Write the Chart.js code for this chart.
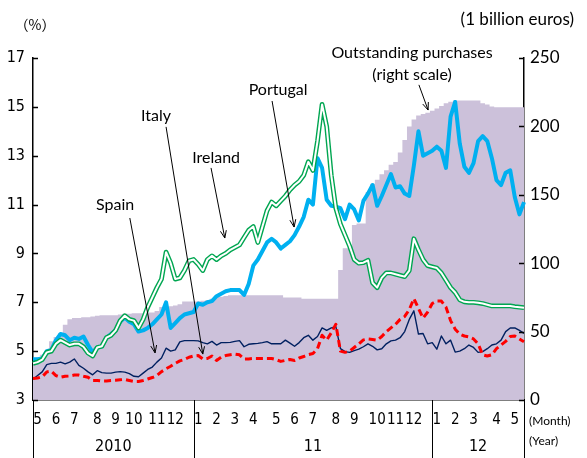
<!DOCTYPE html>
<html>
<head>
<meta charset="utf-8">
<script src="https://cdn.jsdelivr.net/npm/chart.js@4.4.1/dist/chart.umd.min.js"></script>
<style>
  html, body { margin: 0; padding: 0; background: #fff; }
  #wrap { width: 587px; height: 458px; position: relative; }
</style>
</head>
<body>
<div id="wrap"><canvas id="bondChart"></canvas></div>
<script>
// weekly observations, May 2010 - May 2012 (month of each week)
const weekMonth = [
  5, 5, 5, 5, 6, 6, 6, 6, 7, 7, 7, 7, 7, 8, 8, 8, 8, 9, 9, 9, 9, 10, 10, 10, 10, 10, 11, 11, 11, 11, 12, 12, 12, 12, 12,
  1, 1, 1, 1, 2, 2, 2, 2, 3, 3, 3, 3, 4, 4, 4, 4, 4, 5, 5, 5, 5, 6, 6, 6, 6, 7, 7, 7, 7, 7, 8, 8, 8, 8,
  9, 9, 9, 9, 9, 10, 10, 10, 10, 11, 11, 11, 11, 12, 12, 12, 12, 12,
  1, 1, 1, 1, 2, 2, 2, 2, 3, 3, 3, 3, 3, 4, 4, 4, 4, 5, 5, 5, 5
];
const yearLabels = ['2010', '11', '12'];

// 10-year yields (%)
const portugal = [
  4.67, 4.67, 4.7, 5.0, 5.05, 5.45, 5.7, 5.65, 5.45, 5.55, 5.5, 5.6, 5.25, 4.95, 5.15, 5.2, 5.55, 5.7, 5.85, 6.2,
  6.38, 6.2, 6.1, 5.8, 5.85, 5.95, 6.1, 6.3, 6.5, 7.0, 5.95, 6.15, 6.35, 6.5, 6.55, 6.6, 6.95, 6.9, 7.0, 7.05,
  7.25, 7.35, 7.45, 7.5, 7.5, 7.5, 7.3, 7.75, 8.5, 8.75, 9.1, 9.45, 9.6, 9.45, 9.2, 9.35, 9.5, 9.75, 10.1, 10.5,
  11.2, 11.0, 12.9, 12.5, 11.2, 10.95, 10.92, 10.85, 10.4, 11.0, 10.8, 10.35, 11.15, 11.45, 11.8, 10.95, 11.35, 11.8, 12.25, 11.7,
  11.75, 11.45, 11.35, 12.6, 14.0, 13.0, 13.1, 13.2, 13.37, 13.2, 12.5, 14.6, 15.2, 13.5, 12.55, 12.3, 12.7, 13.6, 13.8, 13.6,
  12.9, 12.0, 11.8, 12.3, 12.4, 11.3, 10.6, 11.1
];
const ireland = [
  4.5, 4.55, 4.65, 4.95, 5.0, 5.3, 5.45, 5.35, 5.25, 5.3, 5.3, 5.18, 4.92, 4.8, 5.15, 5.2, 5.55, 5.65, 5.85, 6.25,
  6.45, 6.3, 6.25, 5.95, 6.3, 6.8, 7.2, 7.6, 7.95, 9.05, 8.6, 7.95, 8.0, 8.3, 8.7, 8.75, 8.55, 8.3, 8.75, 8.9,
  8.75, 8.9, 9.0, 9.15, 9.25, 9.35, 9.65, 9.95, 10.1, 9.45, 10.1, 10.75, 11.1, 10.95, 11.15, 11.35, 11.6, 11.8, 11.95, 12.2,
  12.75, 12.4, 13.6, 15.1, 14.2, 12.2, 10.85, 10.2, 9.75, 9.3, 8.75, 8.6, 8.62, 8.72, 7.8, 7.6, 8.0, 8.2, 8.2, 8.15,
  8.1, 8.05, 8.3, 9.6, 9.15, 8.75, 8.5, 8.45, 8.4, 8.2, 7.9, 7.6, 7.4, 7.1, 7.02, 7.0, 7.0, 6.98, 6.95, 6.9,
  6.85, 6.85, 6.85, 6.85, 6.85, 6.82, 6.8, 6.78
];
const italy = [
  3.85, 4.0, 4.15, 4.45, 4.5, 4.5, 4.55, 4.48, 4.55, 4.68, 4.42, 4.3, 4.15, 4.03, 4.2, 4.12, 4.1, 4.1, 4.14, 4.16,
  4.14, 4.08, 3.97, 3.95, 4.1, 4.25, 4.35, 4.55, 4.72, 5.12, 5.0, 5.05, 5.38, 5.43, 5.43, 5.43, 5.42, 5.35, 5.3, 5.4,
  5.25, 5.35, 5.35, 5.36, 5.4, 5.43, 5.18, 5.28, 5.3, 5.32, 5.35, 5.39, 5.3, 5.3, 5.3, 5.45, 5.33, 5.2, 5.35, 5.55,
  5.65, 5.45, 5.6, 5.95, 5.85, 5.95, 6.0, 5.1, 4.98, 4.95, 5.02, 5.08, 5.18, 5.3, 5.2, 5.05, 5.1, 5.3, 5.42, 5.45,
  5.55, 5.8, 6.3, 6.65, 5.7, 5.72, 5.3, 5.35, 5.08, 5.62, 5.3, 5.45, 4.96, 5.0, 5.1, 5.25, 5.15, 4.95, 4.98, 5.1,
  5.25, 5.3, 5.45, 5.8, 5.95, 5.95, 5.85, 5.73
];
const spain = [
  3.88, 3.9, 3.95, 4.15, 4.18, 4.0, 3.93, 3.97, 3.98, 4.02, 4.02, 3.97, 3.93, 3.8, 3.8, 3.78, 3.78, 3.8, 3.81, 3.83,
  3.84, 3.8, 3.76, 3.76, 3.8, 3.86, 3.92, 4.0, 4.16, 4.28, 4.38, 4.5, 4.6, 4.66, 4.75, 4.8, 4.82, 4.68, 4.7, 4.8,
  4.62, 4.75, 4.82, 4.85, 4.88, 4.85, 4.68, 4.68, 4.7, 4.7, 4.7, 4.7, 4.7, 4.65, 4.58, 4.62, 4.66, 4.62, 4.72, 4.78,
  4.86, 4.9, 5.1, 5.65, 5.45, 5.75, 6.1, 5.0, 4.95, 5.0, 5.15, 5.3, 5.46, 5.5, 5.48, 5.45, 5.6, 5.8, 5.95, 6.1,
  6.3, 6.42, 6.7, 7.15, 6.75, 6.35, 6.6, 6.95, 7.05, 7.05, 6.8, 6.25, 5.9, 5.7, 5.62, 5.58, 5.5, 5.3, 4.85, 4.8,
  4.85, 5.1, 5.25, 5.4, 5.6, 5.62, 5.5, 5.38
];
// ECB outstanding purchases (1 billion euros, right scale)
const purchases = [
  30, 31, 33, 36, 43, 46, 49, 55, 59, 60, 60, 60.5, 60.5, 61, 61.5, 62, 62, 62, 62, 62.5,
  63, 63, 63.5, 63.5, 63.5, 64, 64, 65, 68, 68, 68.5, 69, 70, 72, 72, 72, 72, 72.5, 73, 74,
  75.5, 75.5, 76, 76.5, 76.5, 76.5, 76.5, 76.5, 76.5, 76.5, 76.5, 76.5, 76.5, 76.5, 76.5, 75, 75, 75, 75, 74,
  74, 74, 74, 74, 74, 74, 74, 95, 111, 111, 128, 129, 129, 152, 158, 161, 165, 168, 172, 174,
  181, 190, 200, 205, 208, 209, 210, 211.5, 213, 215, 217, 218, 219, 219, 219, 219, 219, 219, 217, 216,
  214.5, 214, 214, 214, 214, 214, 214, 214
];

const leftTicks = [3, 17, 2];     // min, max, step (%)
const rightTicks = [0, 250, 50];  // min, max, step (1 billion euros)

// labels + arrows, positioned in data units (week index, % scale)
const notes = [
  { text: ['Spain'], at: [17.9, 10.98], from: [21.1, 10.45], to: [26.6, 4.93] },
  { text: ['Italy'], at: [26.8, 14.63], from: [29.0, 14.18], to: [37.0, 4.88] },
  { text: ['Ireland'], at: [39.9, 12.9], from: [38.8, 12.5], to: [41.8, 9.63] },
  { text: ['Portugal'], at: [53.4, 15.69], from: [52.1, 15.24], to: [56.9, 10.08] },
  { text: ['Outstanding purchases', '(right scale)'], at: [82.6, 17.2], from: [84.1, 15.9], to: [86.1, 14.87] }
];

const NARROW = "'Liberation Sans Narrow', 'DejaVu Sans Condensed', sans-serif";
const TEXT = "Lato, 'Open Sans', sans-serif";

function drawArrow(ctx, x1, y1, x2, y2) {
  const a = Math.atan2(y2 - y1, x2 - x1);
  const h = 8;
  ctx.beginPath();
  ctx.moveTo(x1, y1);
  ctx.lineTo(x2, y2);
  ctx.moveTo(x2 - h * Math.cos(a - 0.38), y2 - h * Math.sin(a - 0.38));
  ctx.lineTo(x2, y2);
  ctx.lineTo(x2 - h * Math.cos(a + 0.38), y2 - h * Math.sin(a + 0.38));
  ctx.stroke();
}

const decorations = {
  id: 'decorations',
  afterDraw(chart) {
    const { ctx, chartArea: area, scales } = chart;
    const x = scales.x, y = scales.y, y2 = scales.y2;
    ctx.save();

    // inside tick marks
    ctx.strokeStyle = '#000';
    ctx.lineWidth = 1.5;
    ctx.beginPath();
    for (let v = leftTicks[0]; v <= leftTicks[1]; v += leftTicks[2]) {
      const py = Math.round(y.getPixelForValue(v)) + 0.5;
      ctx.moveTo(area.left, py);
      ctx.lineTo(area.left + 5, py);
    }
    for (let v = rightTicks[0]; v <= rightTicks[1]; v += rightTicks[2]) {
      const py = Math.round(y2.getPixelForValue(v)) + 0.5;
      ctx.moveTo(area.right, py);
      ctx.lineTo(area.right - 5, py);
    }
    ctx.stroke();

    // month / year labels and year separators
    const bottom = chart.height;
    const seps = [area.left];
    ctx.fillStyle = '#000';
    ctx.textAlign = 'center';
    ctx.textBaseline = 'middle';
    ctx.font = '15px ' + NARROW;
    weekMonth.forEach((m, i) => {
      if (i > 0 && m === weekMonth[i - 1]) return;
      if (i > 0 && m === 1) seps.push(x.getPixelForValue(i));
      ctx.fillText(String(m), x.getPixelForValue(Math.min(i + 1, weekMonth.length - 1)), area.bottom + 20);
    });
    seps.push(area.right);
    ctx.lineWidth = 1;
    ctx.beginPath();
    seps.forEach(px => {
      ctx.moveTo(Math.round(px) + 0.5, area.bottom);
      ctx.lineTo(Math.round(px) + 0.5, bottom);
    });
    ctx.stroke();
    ctx.font = '16px ' + NARROW;
    yearLabels.forEach((t, k) => {
      ctx.fillText(t, (seps[k] + seps[k + 1]) / 2, area.bottom + 47);
    });

    ctx.textAlign = 'left';
    ctx.font = '12px ' + TEXT;
    ctx.fillText('(Month)', area.right + 5, area.bottom + 21);
    ctx.fillText('(Year)', area.right + 5, area.bottom + 41);

    // axis titles
    ctx.font = "14px 'Noto Sans CJK JP', sans-serif";
    ctx.textAlign = 'center';
    ctx.fillText('（%）', area.left + 2, 25);
    ctx.font = '17px ' + TEXT;
    ctx.textAlign = 'right';
    ctx.fillText('(1 billion euros)', chart.width - 13, 20);

    // series labels with arrows
    ctx.font = '16px ' + TEXT;
    ctx.textAlign = 'center';
    ctx.lineWidth = 1;
    notes.forEach(n => {
      const tx = x.getPixelForValue(n.at[0]);
      const ty = y.getPixelForValue(n.at[1]);
      n.text.forEach((line, k) => ctx.fillText(line, tx, ty + k * 22));
      drawArrow(ctx,
        x.getPixelForValue(n.from[0]), y.getPixelForValue(n.from[1]),
        x.getPixelForValue(n.to[0]), y.getPixelForValue(n.to[1]));
    });
    ctx.restore();
  }
};

const lineStyle = { pointRadius: 0, tension: 0, fill: false, borderJoinStyle: 'round', yAxisID: 'y' };

new Chart(document.getElementById('bondChart'), {
  type: 'line',
  data: {
    labels: weekMonth.map(String),
    datasets: [
      { ...lineStyle, label: 'Spain', data: spain, borderColor: '#FF0000', borderWidth: 3, borderDash: [7, 4], order: 0 },
      { ...lineStyle, label: 'Italy', data: italy, borderColor: '#002060', borderWidth: 1.4, order: 1 },
      { ...lineStyle, label: 'Ireland (inner)', data: ireland, borderColor: '#FFFFFF', borderWidth: 2, order: 2 },
      { ...lineStyle, label: 'Ireland', data: ireland, borderColor: '#00A651', borderWidth: 4.8, order: 3 },
      { ...lineStyle, label: 'Portugal', data: portugal, borderColor: '#00B0F0', borderWidth: 4, order: 4 },
      {
        label: 'Outstanding purchases', data: purchases, yAxisID: 'y2', order: 5,
        stepped: 'middle', fill: 'origin', pointRadius: 0, borderWidth: 0,
        borderColor: 'rgba(0,0,0,0)', backgroundColor: '#CCC1DA'
      }
    ]
  },
  options: {
    responsive: true,
    maintainAspectRatio: false,
    animation: false,
    layout: { padding: { top: 58, left: 0, right: 0, bottom: 0 } },
    plugins: { legend: { display: false }, tooltip: { enabled: false } },
    scales: {
      x: {
        type: 'category',
        offset: false,
        grid: { display: false, drawTicks: false },
        border: { display: true, color: '#000', width: 1.5 },
        ticks: { display: false },
        afterFit: s => { s.height = 58; }
      },
      y: {
        position: 'left',
        min: leftTicks[0],
        max: leftTicks[1],
        grid: { display: false, drawTicks: false },
        border: { display: true, color: '#000', width: 1.5 },
        ticks: { stepSize: leftTicks[2], color: '#000', padding: 8, font: { family: NARROW, size: 16 } },
        afterFit: s => { s.width = 33; }
      },
      y2: {
        position: 'right',
        min: rightTicks[0],
        max: rightTicks[1],
        grid: { display: false, drawTicks: false },
        border: { display: true, color: '#000', width: 1.5 },
        ticks: { stepSize: rightTicks[2], color: '#000', padding: 6, font: { family: TEXT, size: 17 } },
        afterFit: s => { s.width = 63; }
      }
    }
  },
  plugins: [decorations]
});
</script>
</body>
</html>
